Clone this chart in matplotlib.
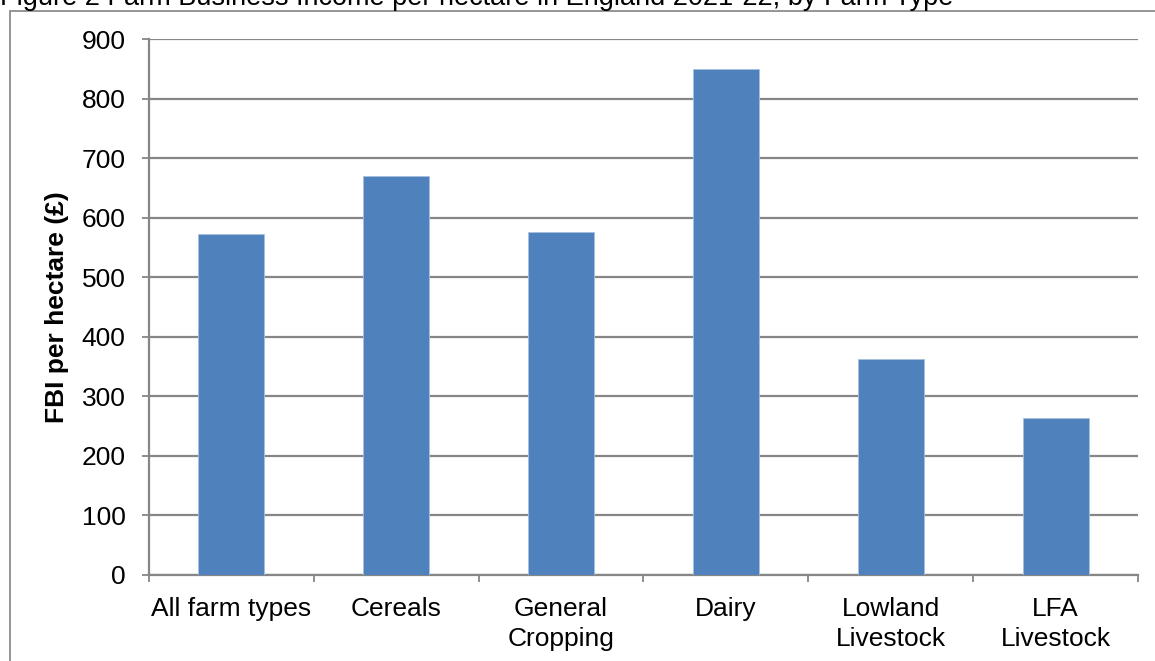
import matplotlib.pyplot as plt
from matplotlib.patches import Rectangle

plt.rcParams['font.family'] = ['Liberation Sans', 'DejaVu Sans']

# Farm Business Income per hectare (GBP), 2021-22
farm_types = ['All farm types', 'Cereals', 'General\nCropping', 'Dairy',
              'Lowland\nLivestock', 'LFA\nLivestock']
fbi_per_ha = [573, 670, 576, 850, 363, 263]
y_ticks = [0, 100, 200, 300, 400, 500, 600, 700, 800, 900]

grey = '#868686'
bar_blue = '#4F81BD'
fs = 19

fig = plt.figure(figsize=(11.55, 6.61), dpi=100)
ax = fig.add_axes([149 / 1155, 1 - 574.7 / 661, (1138 - 149) / 1155, (574.7 - 39.3) / 661])

x = list(range(len(farm_types)))
ax.bar(x, fbi_per_ha, width=0.4, color=bar_blue, edgecolor='#A7BFDE', linewidth=0.6, zorder=3)

ax.set_xlim(-0.5, len(farm_types) - 0.5)
ax.set_ylim(0, 900)
ax.set_yticks(y_ticks)
ax.yaxis.grid(True, color=grey, linewidth=1.6, zorder=0)

# labels sit under the bars, tick marks sit between categories
ax.set_xticks(x)
ax.set_xticklabels(farm_types, fontsize=fs, linespacing=1.3)
ax.set_xticks([i - 0.5 for i in range(len(farm_types) + 1)], minor=True)
ax.tick_params(axis='x', which='major', length=0, pad=16)
ax.tick_params(axis='x', which='minor', length=5, width=1.3, color=grey)
ax.tick_params(axis='y', length=5, width=1.3, color=grey, labelsize=fs, pad=12)

for side in ['top', 'right']:
    ax.spines[side].set_visible(False)
for side in ['left', 'bottom']:
    ax.spines[side].set_color(grey)
    ax.spines[side].set_linewidth(1.6)

ax.set_ylabel('FBI per hectare (£)', fontsize=fs, fontweight='bold', labelpad=9)

# chart frame and caption
fig.patches.append(Rectangle((10 / 1155, -0.2), 1.5, 1.2 - 11 / 661,
                             transform=fig.transFigure, fill=False,
                             edgecolor='#8C8C8C', linewidth=1.3))
fig.text(0.0, 1 - 5 / 661, 'Figure 2 Farm Business Income per hectare in England 2021-22, by Farm Type',
         fontsize=19.5, ha='left', va='baseline')

fig.savefig('out.png', dpi=100)
